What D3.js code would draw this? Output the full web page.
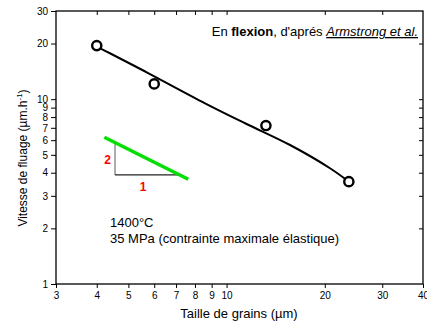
<!DOCTYPE html>
<html><head><meta charset="utf-8">
<script src="https://cdn.jsdelivr.net/npm/d3@7"></script>
<style>
body{margin:0;background:#fff;}
text{font-family:"Liberation Sans",Arial,sans-serif;}
</style></head>
<body><svg id="c" width="427" height="326"></svg>
<script>
// Data
const grainSize = [4, 6, 13.2, 23.7];
const creepRate = [19.5, 12.1, 7.2, 3.58];
const fitX = [4, 4.39, 5.69, 8.59, 11.39, 15.65, 20.75, 23.7];
const fitY = [19.24, 17.72, 13.98, 9.5, 7.41, 5.65, 4.23, 3.58];
const slopeX = [4.22, 7.63];
const slopeY = [6.22, 3.69];
const triX = [4.55, 7.16];
const triY = [5.75, 3.89];
const xTicks = [3, 4, 5, 6, 7, 8, 9, 10, 20, 30, 40];
const yTicks = [1, 2, 3, 4, 5, 6, 7, 8, 9, 10, 20, 30];

const L = 56, R = 423, T = 11, B = 284;
const svg = d3.select("#c");
const x = d3.scaleLog().domain([3, 40]).range([L, R]);
const y = d3.scaleLog().domain([1, 30]).range([B, T]);

// axes
const xAxis = d3.axisBottom(x).tickValues(xTicks).tickFormat(d3.format("d")).tickSize(4).tickSizeOuter(0);
const yAxis = d3.axisLeft(y).tickValues(yTicks).tickFormat(d3.format("d")).tickSize(5).tickSizeOuter(0);
const gx = svg.append("g").attr("transform", `translate(0,${B})`).call(xAxis);
const gy = svg.append("g").attr("transform", `translate(${L},0)`).call(yAxis);
[gx, gy].forEach(g => {
  g.select(".domain").remove();
  g.selectAll("line").attr("stroke", "#000").attr("stroke-width", 1);
  g.selectAll("text").attr("font-size", 10).attr("fill", "#000")
    .attr("font-family", "'Liberation Sans',Arial,sans-serif");
});
gx.selectAll("text").attr("dy", "0.71em").attr("y", 8);
gy.selectAll("text").attr("x", -8);

// mirrored inward ticks
const gt = svg.append("g").attr("transform", `translate(0,${T})`)
  .call(d3.axisBottom(x).tickValues(xTicks.slice(1, -1)).tickFormat("").tickSize(4).tickSizeOuter(0));
const gr = svg.append("g").attr("transform", `translate(${R},0)`)
  .call(d3.axisLeft(y).tickValues(yTicks.slice(1, -1)).tickFormat("").tickSize(4).tickSizeOuter(0));
[gt, gr].forEach(g => { g.select(".domain").remove(); g.selectAll("line").attr("stroke", "#000"); });

// frame
svg.append("rect").attr("x", L).attr("y", T).attr("width", R - L).attr("height", B - T)
  .attr("fill", "none").attr("stroke", "#000").attr("stroke-width", 1.3);

// fit curve
const line = d3.line().x(d => x(d[0])).y(d => y(d[1])).curve(d3.curveCatmullRom);
svg.append("path").datum(fitX.map((v, i) => [v, fitY[i]]))
  .attr("d", line).attr("fill", "none").attr("stroke", "#000").attr("stroke-width", 2);

// slope triangle
svg.append("line").attr("x1", x(triX[0])).attr("x2", x(triX[0]))
  .attr("y1", y(triY[0])).attr("y2", y(triY[1])).attr("stroke", "#777").attr("stroke-width", 1.2);
svg.append("line").attr("x1", x(triX[0])).attr("x2", x(triX[1]))
  .attr("y1", y(triY[1])).attr("y2", y(triY[1])).attr("stroke", "#222").attr("stroke-width", 1.2);
svg.append("line").attr("x1", x(slopeX[0])).attr("x2", x(slopeX[1]))
  .attr("y1", y(slopeY[0])).attr("y2", y(slopeY[1])).attr("stroke", "#00e000").attr("stroke-width", 3.5);
svg.append("text").attr("x", x(triX[0]) - 4).attr("y", 164).attr("text-anchor", "end")
  .attr("font-size", 12).attr("font-weight", "bold").attr("fill", "#ff0000").text("2");
svg.append("text").attr("x", 143).attr("y", 191).attr("text-anchor", "middle")
  .attr("font-size", 12).attr("font-weight", "bold").attr("fill", "#ff0000").text("1");

// points
svg.append("g").selectAll("circle").data(grainSize).join("circle")
  .attr("cx", (d) => x(d)).attr("cy", (d, i) => y(creepRate[i])).attr("r", 4.6)
  .attr("fill", "#fff").attr("stroke", "#000").attr("stroke-width", 2.4);

// annotations
svg.append("text").attr("x", 110).attr("y", 227).attr("font-size", 13).text("1400°C");
svg.append("text").attr("x", 110).attr("y", 243).attr("font-size", 13).text("35 MPa (contrainte maximale élastique)");
const tt = svg.append("text").attr("x", 418).attr("y", 36).attr("font-size", 13).attr("text-anchor", "end");
tt.append("tspan").text("En ");
tt.append("tspan").attr("font-weight", "bold").text("flexion");
tt.append("tspan").text(", d'aprés ");
tt.append("tspan").attr("font-style", "italic").attr("text-decoration", "underline").text("Armstrong et al.");

// axis titles
svg.append("text").attr("x", 239).attr("y", 318).attr("text-anchor", "middle").attr("font-size", 13)
  .text("Taille de grains (µm)");
const yl = svg.append("text").attr("transform", "translate(27,158) rotate(-90)")
  .attr("text-anchor", "middle").attr("font-size", 12);
yl.append("tspan").text("Vitesse de fluage (µm.h");
yl.append("tspan").attr("font-size", 8).attr("dy", -5).text("-1");
yl.append("tspan").attr("dy", 5).text(")");
</script></body></html>
